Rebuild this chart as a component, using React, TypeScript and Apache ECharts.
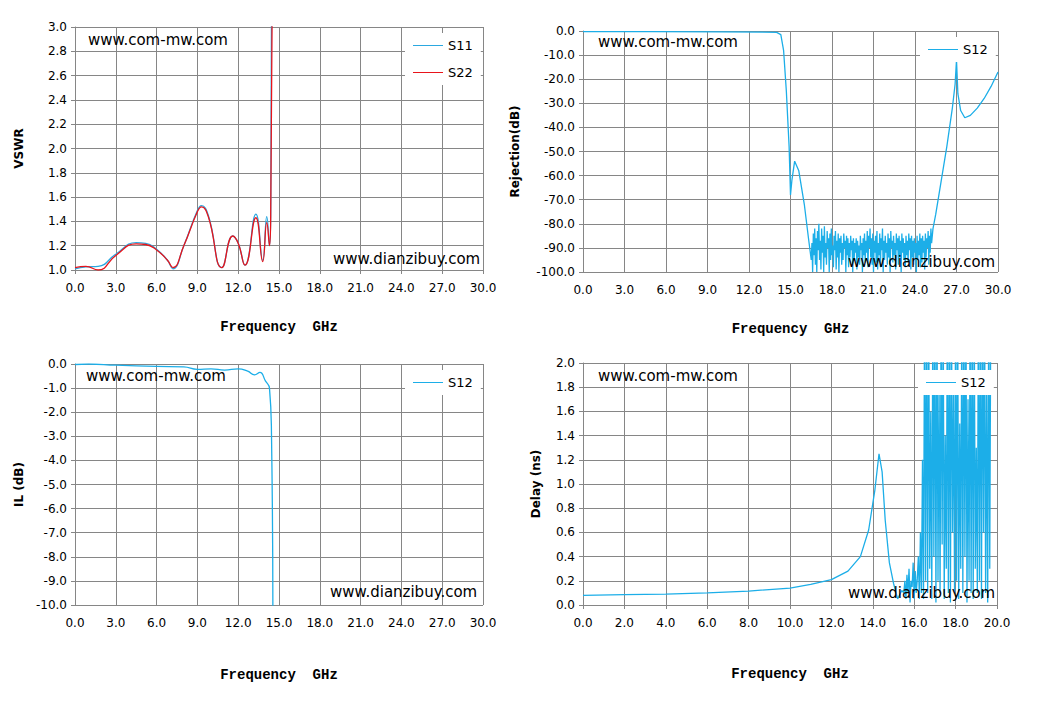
import { useRef, useEffect } from 'react';
import * as echarts from 'echarts';

// VSWR (GHz, value)
const s11: [number, number][] = [
  [0, 1.01], [0.8, 1.025], [1.7, 1.03], [3, 1.13], [4.5, 1.225], [5.2, 1.22], [6, 1.17],
  [6.8, 1.08], [7.2, 1.01], [8, 1.2], [9, 1.49], [9.3, 1.53], [9.8, 1.45], [10.8, 1.02],
  [11.6, 1.28], [12.0, 1.22], [12.5, 1.04], [13.3, 1.46], [13.8, 1.08], [14.1, 1.44],
  [14.3, 1.2], [14.4, 1.6], [14.45, 3.2],
];
const s22: [number, number][] = [
  [0, 1.02], [0.8, 1.03], [1.7, 1.0], [3, 1.12], [4.5, 1.215], [5.2, 1.21], [6, 1.165],
  [6.8, 1.08], [7.2, 1.02], [8, 1.2], [9, 1.48], [9.3, 1.52], [9.8, 1.44], [10.8, 1.02],
  [11.6, 1.28], [12.0, 1.22], [12.5, 1.04], [13.3, 1.43], [13.8, 1.07], [14.1, 1.39],
  [14.3, 1.2], [14.4, 1.6], [14.5, 3.2],
];

// Rejection S12
const rejPass: [number, number][] = [
  [0, -0.3], [5, -0.3], [10, -0.4], [13, -0.5], [14, -0.6], [14.3, -1.5], [14.5, -8],
  [14.7, -25], [14.9, -48], [15.0, -68], [15.1, -62], [15.3, -54], [15.6, -58],
  [16.0, -72], [16.3, -86], [16.5, -95],
];
const rejStopStart = 16.55;
const rejStopStep = 0.05;
const rejStop = [
  -88, -100, -84, -93, -82, -97, -86, -100, -83, -91, -80, -95, -87, -99, -82, -92,
  -85, -100, -81, -94, -88, -97, -83, -90, -86, -100, -84, -95, -82, -93, -89, -98,
  -85, -91, -83, -99, -87, -94, -84, -100, -86, -92, -85, -97, -88, -95, -84, -90,
  -87, -100, -85, -93, -86, -98, -88, -94, -85, -91, -87, -100, -86, -95, -88, -92,
  -86, -99, -87, -94, -89, -97, -85, -91, -88, -100, -86, -93, -84, -96, -87, -92,
  -83, -98, -85, -90, -82, -94, -86, -97, -84, -100, -87, -92, -85, -96, -83, -99,
  -88, -93, -84, -98, -86, -91, -82, -100, -87, -95, -85, -92, -88, -97, -84, -94,
  -86, -100, -83, -90, -87, -96, -85, -93, -88, -99, -84, -91, -86, -97, -85, -94,
  -87, -100, -84, -92, -86, -95, -88, -98, -85, -93, -87, -96, -84, -91, -86, -99,
  -85, -94, -87, -97, -86, -92, -88, -100, -85, -95, -87, -93, -84, -98, -86, -96,
  -85, -92, -87, -99, -84, -94, -86, -90, -83, -97, -85, -92, -82, -88,
];
const rejHigh: [number, number][] = [
  [25.3, -82], [25.5, -76], [25.9, -62], [26.3, -48], [26.7, -32], [26.9, -22],
  [27.0, -12], [27.1, -26], [27.3, -33], [27.6, -36], [28.0, -35], [28.5, -32],
  [29.0, -28], [29.5, -23], [30.0, -17],
];

// Insertion loss S12
const il: [number, number][] = [
  [0, -0.02], [1, 0], [3, -0.05], [6, -0.1], [8, -0.12], [9, -0.22], [10, -0.2],
  [11, -0.25], [12, -0.2], [12.7, -0.3], [13.2, -0.45], [13.6, -0.35], [14.0, -0.7],
  [14.3, -1.0], [14.45, -3], [14.55, -10.5],
];

// Group delay S12 (x axis 0-20)
const delayLow: [number, number][] = [
  [0, 0.08], [2, 0.085], [4, 0.09], [6, 0.1], [8, 0.115], [10, 0.14], [11, 0.17],
  [12, 0.21], [12.8, 0.28], [13.4, 0.4], [13.8, 0.62], [14.1, 0.95], [14.3, 1.25],
  [14.45, 1.1], [14.6, 0.7], [14.8, 0.35], [15.0, 0.18], [15.2, 0.05], [15.4, 0.12],
];
const delayNoiseStart = 15.5;
const delayNoiseStep = 0.05;
const delayNoise = [
  0.1, 0.2, 0.05, 0.25, 0.1, 0.3, 0.02, 0.2, 0.15, 0.35, 0.05, 0.28, 0.1, 0.22, 0.4, 0.05,
  0.6, 0.1, 1.2, 0.05, 2.5, 0.2, 2.5, 0.1, 2.5, 0.3, 1.6, 0.05, 2.5, 0.4, 2.5, 0.02,
  2.5, 0.2, 1.9, 0.1, 2.5, 0.5, 2.5, 0.05, 1.4, 0.3, 2.5, 0.1, 2.5, 0.02, 2.5, 0.6,
  1.8, 0.1, 2.5, 0.2, 2.5, 0.05, 1.5, 0.3, 2.5, 0.1, 2.5, 0.4, 2.5, 0.02, 1.7, 0.2,
  2.5, 0.1, 2.5, 0.05, 2.5, 0.3, 1.3, 0.1, 2.5, 0.2, 2.5, 0.05, 2.5, 0.6, 2.5, 0.1,
  1.9, 0.02, 2.5, 0.3, 2.5,
];

const grey = '#868686';
const blue = '#1CAEE8';
const tickFont = { fontFamily: 'DejaVu Sans', fontSize: 12, color: '#000' };
const nameFont = { fontFamily: 'Liberation Mono', fontWeight: 'bold' as const, fontSize: 14, color: '#000' };
const yNameFont = { fontFamily: 'DejaVu Sans', fontWeight: 'bold' as const, fontSize: 12, color: '#000' };

const xAxis = (gridIndex: number, max: number, interval: number, nameGap: number) => ({
  type: 'value' as const, gridIndex, min: 0, max, interval,
  name: 'Frequency  GHz', nameLocation: 'middle' as const, nameGap, nameTextStyle: nameFont,
  axisLine: { lineStyle: { color: grey } },
  axisTick: { show: true, length: 4, lineStyle: { color: grey } },
  splitLine: { lineStyle: { color: grey } },
  axisLabel: { ...tickFont, margin: 12, formatter: (v: number) => v.toFixed(1) },
});
const yAxis = (gridIndex: number, min: number, max: number, interval: number, name: string, nameGap: number) => ({
  type: 'value' as const, gridIndex, min, max, interval,
  name, nameLocation: 'middle' as const, nameGap, nameTextStyle: yNameFont,
  axisLine: { show: true, lineStyle: { color: grey } },
  axisTick: { show: true, length: 4, lineStyle: { color: grey } },
  splitLine: { lineStyle: { color: grey } },
  axisLabel: { ...tickFont, margin: 8, formatter: (v: number) => v.toFixed(1) },
});

const App: React.FC = () => {
  const ref = useRef<HTMLDivElement>(null);
  useEffect(() => {
    document.body.style.margin = '0';
    if (!ref.current) return;
    const chart = echarts.init(ref.current, undefined, { renderer: 'svg' });
    const stop: [number, number][] = rejStop.map((v, i) => [rejStopStart + i * rejStopStep, v]);
    const dn: [number, number][] = delayNoise.map((v, i) => [delayNoiseStart + i * delayNoiseStep, v]);
    const line = (name: string, xi: number, data: [number, number][], color: string, smooth = true) => ({
      name, type: 'line' as const, xAxisIndex: xi, yAxisIndex: xi, data, smooth, symbol: 'none',
      lineStyle: { color, width: 1.3 }, itemStyle: { color }, clip: true,
    });
    const legendBase = {
      orient: 'vertical' as const, backgroundColor: '#fff', itemWidth: 30, itemHeight: 8, itemGap: 14,
      padding: [6, 8, 6, 8], textStyle: { ...tickFont, fontSize: 13 },
      icon: 'path://M0,4L30,4L30,5L0,5Z',
    };
    const wm = (x: number, y: number, text: string) => ({
      type: 'text' as const, x, y, z: 100,
      style: { text, font: '15px "DejaVu Sans"', fill: '#000' },
    });
    chart.setOption({
      animation: false,
      grid: [
        { left: 75, top: 27, width: 408, height: 243 },
        { left: 583, top: 31, width: 415, height: 241 },
        { left: 75, top: 364, width: 408, height: 241 },
        { left: 583, top: 363, width: 414, height: 242 },
      ],
      xAxis: [xAxis(0, 30, 3, 50), xAxis(1, 30, 3, 50), xAxis(2, 30, 3, 63), xAxis(3, 20, 2, 62)],
      yAxis: [
        yAxis(0, 1, 3, 0.2, 'VSWR', 50),
        yAxis(1, -100, 0, 10, 'Rejection(dB)', 62),
        yAxis(2, -10, 0, 1, 'IL (dB)', 50),
        yAxis(3, 0, 2, 0.2, 'Delay (ns)', 41),
      ],
      legend: [
        { ...legendBase, data: ['S11', 'S22'], left: 405, top: 33 },
        { ...legendBase, data: ['rej'], formatter: () => 'S12', left: 920, top: 37 },
        { ...legendBase, data: ['il'], formatter: () => 'S12', left: 405, top: 370 },
        { ...legendBase, data: ['dly'], formatter: () => 'S12', left: 918, top: 370 },
      ],
      graphic: [
        wm(88, 32, 'www.com-mw.com'),
        wm(333, 251, 'www.dianzibuy.com'),
        wm(598, 34, 'www.com-mw.com'),
        wm(848, 254, 'www.dianzibuy.com'),
        wm(86, 368, 'www.com-mw.com'),
        wm(330, 584, 'www.dianzibuy.com'),
        wm(598, 368, 'www.com-mw.com'),
        wm(848, 585, 'www.dianzibuy.com'),
      ],
      series: [
        line('S11', 0, s11, '#2BA8E0'),
        line('S22', 0, s22, '#E8141B'),
        line('rej', 1, [...rejPass, ...stop, ...rejHigh], blue, false),
        line('il', 2, il, blue),
        line('dly', 3, [...delayLow, ...dn], blue, false),
      ],
    });
    return () => chart.dispose();
  }, []);
  return <div ref={ref} style={{ width: 1039, height: 711 }} />;
};

export default App;
